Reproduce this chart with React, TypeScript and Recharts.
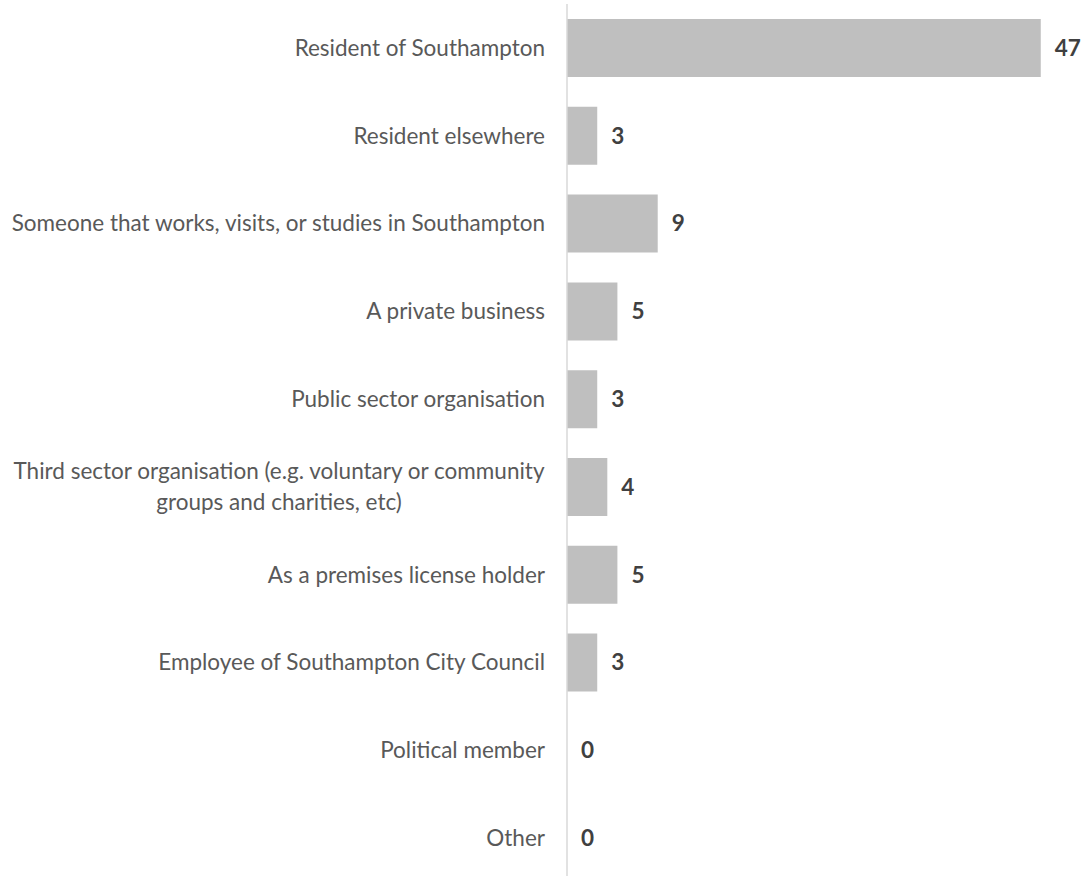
// Respondent-Typen — horizontales Balkendiagramm (Anzahl je Kategorie)
import { ComposedChart, Bar, Scatter, XAxis, YAxis } from 'recharts'

// Kategorien, '\n' markiert den Zeilenumbruch im Achsenlabel
const categories = [
  'Resident of Southampton',
  'Resident elsewhere',
  'Someone that works, visits, or studies in Southampton',
  'A private business',
  'Public sector organisation',
  'Third sector organisation (e.g. voluntary or community\ngroups and charities, etc)',
  'As a premises license holder',
  'Employee of Southampton City Council',
  'Political member',
  'Other',
]

const counts = [47, 3, 9, 5, 3, 4, 5, 3, 0, 0]

const xDomain = [0, 50]

const FONT = 'Lato, "Open Sans", sans-serif'
const FONT_SIZE = 22.5
const LINE_HEIGHT = 31
const WRAP_WIDTH = 532

const chartData = categories.map((name, i) => ({ name, value: counts[i] }))

function CategoryTick(props: any) {
  const { x, y, payload } = props
  const lines = String(payload.value).split('\n')
  const multi = lines.length > 1
  const startDy = -((lines.length - 1) / 2) * LINE_HEIGHT
  const tx = multi ? x - WRAP_WIDTH / 2 : x
  return (
    <text
      x={tx}
      y={y}
      textAnchor={multi ? 'middle' : 'end'}
      fill="#595959"
      fontFamily={FONT}
      fontSize={FONT_SIZE}
    >
      {lines.map((line, i) => (
        <tspan key={i} x={tx} dy={i === 0 ? startDy + FONT_SIZE * 0.355 : LINE_HEIGHT}>
          {line}
        </tspan>
      ))}
    </text>
  )
}

// Wertelabel rechts vom Balkenende (auch fuer 0)
function ValueLabel(props: any) {
  const { cx, cy, payload } = props
  if (cx == null || cy == null) return <g />
  return (
    <text
      x={cx + 14}
      y={cy}
      dy={FONT_SIZE * 0.355}
      fill="#404040"
      fontFamily={FONT}
      fontSize={FONT_SIZE}
      fontWeight="bold"
    >
      {payload.value}
    </text>
  )
}

export default function App() {
  return (
    <div
      style={{
        position: 'absolute',
        left: 0,
        top: 0,
        width: 1084,
        height: 876,
        overflow: 'hidden',
        background: '#ffffff',
      }}
    >
      <ComposedChart
        width={1084}
        height={882}
        data={chartData}
        layout="vertical"
        margin={{ top: 4, right: 13, bottom: 0, left: 0 }}
      >
        <XAxis type="number" dataKey="value" domain={xDomain} hide />
        <YAxis
          type="category"
          dataKey="name"
          width={567}
          axisLine={{ stroke: '#D9D9D9', strokeWidth: 1.5 }}
          tickLine={false}
          tickSize={0}
          tickMargin={22}
          interval={0}
          tick={<CategoryTick />}
        />
        <Bar dataKey="value" fill="#BFBFBF" barSize={58} isAnimationActive={false} />
        <Scatter dataKey="value" shape={<ValueLabel />} isAnimationActive={false} />
      </ComposedChart>
    </div>
  )
}
